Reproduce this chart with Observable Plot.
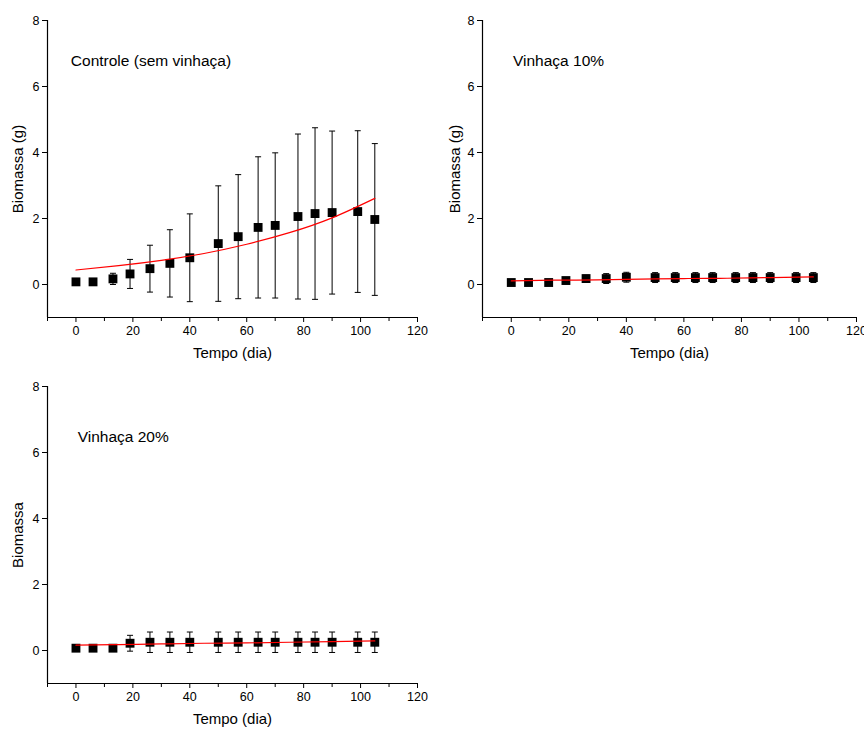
<!DOCTYPE html>
<html lang="pt">
<head>
<meta charset="utf-8">
<script src="https://cdn.jsdelivr.net/npm/d3@7"></script>
<script src="https://cdn.jsdelivr.net/npm/@observablehq/plot@0.6"></script>
<style>
  html, body { margin: 0; padding: 0; background: #fff; }
  #painel { position: relative; width: 864px; height: 729px; background: #fff; overflow: hidden; }
  #painel svg { position: absolute; }
</style>
</head>
<body>
<div id="painel"></div>
<script>
// Tempo de coleta (dias)
const dias = [0, 6, 13, 19, 26, 33, 40, 50, 57, 64, 70, 78, 84, 90, 99, 105];

// Biomassa média (g) e desvio padrão por tratamento
const controleMedia  = [0.08, 0.08, 0.17, 0.32, 0.48, 0.64, 0.81, 1.24, 1.45, 1.73, 1.79, 2.06, 2.15, 2.18, 2.21, 1.97];
const controleDesvio = [0, 0, 0.17, 0.44, 0.71, 1.02, 1.33, 1.75, 1.88, 2.14, 2.20, 2.50, 2.60, 2.47, 2.45, 2.30];

const vinhaca10Media  = [0.06, 0.06, 0.06, 0.12, 0.18, 0.18, 0.22, 0.21, 0.21, 0.21, 0.21, 0.21, 0.21, 0.21, 0.21, 0.21];
const vinhaca10Desvio = [0, 0, 0, 0.08, 0.10, 0.15, 0.15, 0.15, 0.15, 0.15, 0.15, 0.15, 0.15, 0.15, 0.15, 0.15];

const vinhaca20Media  = [0.07, 0.07, 0.07, 0.22, 0.25, 0.25, 0.25, 0.25, 0.25, 0.25, 0.25, 0.25, 0.25, 0.25, 0.25, 0.25];
const vinhaca20Desvio = [0, 0, 0, 0.24, 0.31, 0.31, 0.31, 0.31, 0.31, 0.31, 0.31, 0.31, 0.31, 0.31, 0.31, 0.31];

// Curvas ajustadas
const ajusteDias      = [0, 15, 30, 45, 60, 75, 90, 105];
const controleAjuste  = [0.44, 0.57, 0.73, 0.94, 1.22, 1.57, 2.02, 2.61];
const vinhaca10Ajuste = [0.11, 0.13, 0.14, 0.16, 0.18, 0.19, 0.21, 0.23];
const vinhaca20Ajuste = [0.16, 0.18, 0.20, 0.22, 0.23, 0.25, 0.27, 0.29];

// Rótulos dos eixos
const ticksX = [0, 20, 40, 60, 80, 100, 120];
const ticksXMenores = [-10, 10, 30, 50, 70, 90, 110];
const ticksY = [0, 2, 4, 6, 8];

// Traço horizontal usado como "chapéu" das barras de erro
const chapeu = {
  draw(context) {
    context.moveTo(-3, 0);
    context.lineTo(3, 0);
  }
};

const fonte = "'Liberation Sans', Arial, Helvetica, sans-serif";

function grafico({media, desvio, ajuste, titulo, tituloX, tituloY, rotuloY, rotuloDx,
                  width, height, marginLeft, marginTop, marginBottom, larguraArea, left, top}) {
  const pontos = dias.map((d, i) => ({dia: d, m: media[i], lo: media[i] - desvio[i], hi: media[i] + desvio[i]}));
  const comErro = pontos.filter(p => p.hi > p.lo);
  const curva = ajusteDias.map((d, i) => ({dia: d, v: ajuste[i]}));
  const svg = Plot.plot({
    width, height, marginLeft, marginTop, marginBottom,
    marginRight: width - marginLeft - larguraArea,
    x: {domain: [-10, 120]},
    y: {domain: [-1, 8]},
    style: {fontFamily: fonte, fontSize: "12.5px", color: "black", background: "white", overflow: "visible"},
    marks: [
      Plot.ruleX([-10], {stroke: "black", strokeWidth: 1.2}),
      Plot.ruleY([-1], {stroke: "black", strokeWidth: 1.2}),
      Plot.axisY(ticksY, {tickSize: 5, tickPadding: 3, label: null, fontSize: 12.5}),
      Plot.axisX(ticksX, {tickSize: 5, tickPadding: 4, label: null, fontSize: 12.5}),
      Plot.axisX(ticksXMenores, {tickSize: 4, tickFormat: () => "", label: null}),
      Plot.text(["Tempo (dia)"], {frameAnchor: "bottom", dy: 40, fontSize: 15, fill: "black"}),
      Plot.text([rotuloY], {frameAnchor: "left", dx: rotuloDx, rotate: -90, textAnchor: "middle", fontSize: 15, fill: "black"}),
      Plot.text([titulo], {x: tituloX, y: tituloY, textAnchor: "start", fontSize: 15.5, fill: "black"}),
      // barras de erro
      Plot.link(comErro, {x1: "dia", x2: "dia", y1: "lo", y2: "hi", stroke: "black", strokeWidth: 1}),
      Plot.dot(comErro, {x: "dia", y: "hi", symbol: chapeu, r: 3, stroke: "black", fill: "none", strokeWidth: 1}),
      Plot.dot(comErro, {x: "dia", y: "lo", symbol: chapeu, r: 3, stroke: "black", fill: "none", strokeWidth: 1}),
      // médias
      Plot.dot(pontos, {x: "dia", y: "m", symbol: "square", r: 5, fill: "black", stroke: "none"}),
      // ajuste
      Plot.line(curva, {x: "dia", y: "v", stroke: "red", strokeWidth: 1.2, curve: "natural"})
    ]
  });
  svg.style.left = left + "px";
  svg.style.top = top + "px";
  document.getElementById("painel").appendChild(svg);
}

grafico({media: controleMedia, desvio: controleDesvio, ajuste: controleAjuste,
  titulo: "Controle (sem vinhaça)", tituloX: -1.8, tituloY: 6.77,
  rotuloY: "Biomassa (g)", rotuloDx: -29,
  width: 432, height: 365, marginLeft: 47, marginTop: 20, marginBottom: 48, larguraArea: 370, left: 0, top: 0});

grafico({media: vinhaca10Media, desvio: vinhaca10Desvio, ajuste: vinhaca10Ajuste,
  titulo: "Vinhaça 10%", tituloX: 0.6, tituloY: 6.77,
  rotuloY: "Biomassa (g)", rotuloDx: -27,
  width: 432, height: 365, marginLeft: 50, marginTop: 20, marginBottom: 48, larguraArea: 374, left: 432, top: 0});

grafico({media: vinhaca20Media, desvio: vinhaca20Desvio, ajuste: vinhaca20Ajuste,
  titulo: "Vinhaça 20%", tituloX: 0.6, tituloY: 6.46,
  rotuloY: "Biomassa", rotuloDx: -29,
  width: 432, height: 364, marginLeft: 47, marginTop: 21, marginBottom: 46, larguraArea: 370, left: 0, top: 365});
</script>
</body>
</html>
